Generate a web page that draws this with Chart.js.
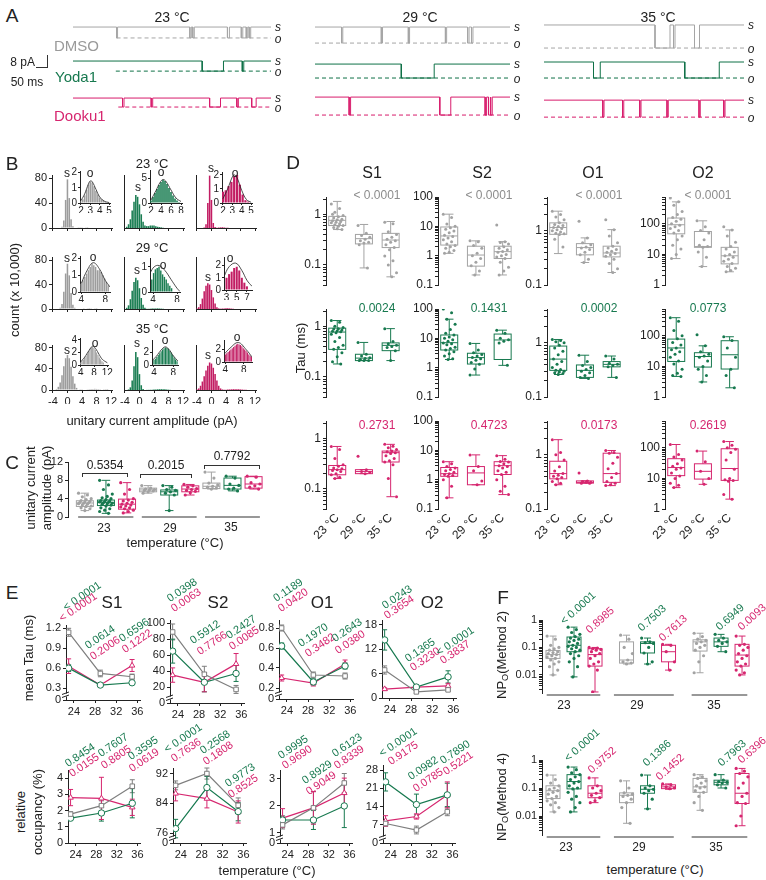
<!DOCTYPE html>
<html>
<head>
<meta charset="utf-8">
<script src="https://cdn.jsdelivr.net/npm/chart.js@4.4.1/dist/chart.umd.min.js"></script>
<style>
  html, body { margin: 0; padding: 0; background: #fff; }
  body { position: relative; width: 766px; height: 880px; overflow: hidden; font-family: Arial, "Liberation Sans", Helvetica, sans-serif; color: #222; }
  .t { position: absolute; white-space: nowrap; line-height: 1; }
  .ln { position: absolute; background: #333; }
  sub { font-size: 70%; vertical-align: -2px; }
</style>
</head>
<body>
<script>
var GRAY = '#a3a3a3';
var GRAY_LINE = '#7e7e7e';
var GREEN = '#17794f';
var PINK = '#d6266f';
var drugColors = [GRAY, GREEN, PINK];
var histColors = ['#9c9c9c', '#1a7d52', '#c21d63'];

// ---------- A: single channel traces (ms, pA)
var traceTemps = ['23 °C', '29 °C', '35 °C'];
var traceDrugs = ['DMSO', 'Yoda1', 'Dooku1'];
var closedLevel = [[-5.1, -29.7, -56.5], [-5.1, -31.9, -55.8], [-3.6, -30.4, -58.0]];
var openLevel = [[-13.0, -37.0, -63.0], [-16.7, -42.0, -68.8], [-20.3, -42.0, -70.3]];
var dashStart = [[176, 173, 183], [0, 0, 0], [0, 0, 0]];
var openings23 = [[[176, 180], [472, 478], [484, 490], [624, 632], [680, 686], [700, 706], [712, 718]], [[522, 608], [684, 690]], [[200, 206], [316, 322], [552, 596], [662, 668], [722, 740]]];
var openings29 = [[[109, 114], [272, 277], [383, 388], [535, 540], [626, 632], [642, 648]], [[354, 489]], [[140, 146], [512, 557], [698, 704], [712, 718], [722, 727]]];
var openings35 = [[[444, 504], [518, 524], [602, 622]], [[198, 225], [563, 701]], [[235, 240], [314, 319], [383, 388], [492, 497], [620, 625], [719, 724]]];

// ---------- B: amplitude histograms (count x 10,000)
var histBins = [-4, -3.5, -3, -2.5, -2, -1.5, -1, -0.5, 0, 0.5, 1, 1.5, 2, 2.5, 3, 3.5, 4, 4.5, 5, 5.5, 6, 6.5, 7, 7.5, 8, 8.5, 9, 9.5, 10, 10.5, 11, 11.5, 12];
var histDmso23 = [0, 0, 0, 0, 0, 2, 12, 45, 78, 48, 14, 3, 0.8, 0.8, 1.2, 1.4, 1.2, 0.8, 0.5, 0.2, 0, 0, 0, 0, 0, 0, 0, 0, 0, 0, 0, 0, 0];
var histYoda23 = [0, 2, 6, 14, 28, 42, 53, 50, 38, 22, 10, 4, 3, 3, 4, 4, 4, 3, 2, 1.5, 1, 0.5, 0, 0, 0, 0, 0, 0, 0, 0, 0, 0, 0];
var histDooku23 = [0, 0, 0, 0, 1, 6, 40, 84, 45, 8, 1.5, 0.5, 0.8, 1, 1.2, 1, 0.6, 0.3, 0, 0, 0, 0, 0, 0, 0, 0, 0, 0, 0, 0, 0, 0, 0];
var histDmso29 = [0, 0, 0, 0, 2, 8, 28, 58, 74, 55, 26, 7, 2, 0, 0, 0, 0, 0.3, 0.8, 1.2, 1.5, 1.3, 0.9, 0.5, 0.2, 0, 0, 0, 0, 0, 0, 0, 0];
var histYoda29 = [0, 2, 6, 16, 30, 44, 51, 47, 34, 18, 7, 2, 0.3, 0.3, 0.5, 0.7, 0.9, 1, 1, 0.8, 0.6, 0.3, 0, 0, 0, 0, 0, 0, 0, 0, 0, 0, 0];
var histDooku29 = [1, 3, 8, 17, 29, 38, 42, 40, 31, 19, 9, 3, 1, 0.5, 0.8, 1, 1.2, 1.2, 1, 0.7, 0.4, 0.2, 0, 0, 0, 0, 0, 0, 0, 0, 0, 0, 0];
var histDmso35 = [0, 0, 2, 6, 14, 28, 45, 60, 66, 60, 44, 26, 12, 4, 1, 0.3, 0.5, 0.8, 1, 1.3, 1.6, 1.9, 2.1, 2.2, 2, 1.7, 1.3, 0.9, 0.6, 0.3, 0.1, 0, 0];
var histYoda35 = [0, 0, 1, 5, 18, 45, 72, 62, 30, 9, 2, 0.2, 0.2, 0.3, 0.4, 0.6, 0.8, 1, 1.3, 1.5, 1.6, 1.5, 1.2, 0.9, 0.6, 0.3, 0.1, 0, 0, 0, 0, 0, 0];
var histDooku35 = [1, 3, 8, 16, 26, 37, 46, 52, 50, 42, 30, 18, 8, 3, 1, 0.5, 0.7, 0.9, 1.1, 1.3, 1.5, 1.6, 1.6, 1.4, 1.1, 0.8, 0.5, 0.3, 0.1, 0, 0, 0, 0];
var histCounts = [[histDmso23, histYoda23, histDooku23], [histDmso29, histYoda29, histDooku29], [histDmso35, histYoda35, histDooku35]];

// open-level insets, row-major (23, 29, 35 °C) x (DMSO, Yoda1, Dooku1)
var insetBins = [
  [2.0, 2.2, 2.4, 2.6, 2.8, 3.0, 3.2, 3.4, 3.6, 3.8, 4.0, 4.2, 4.4, 4.6, 4.8, 5.0],
  [2.0, 2.4, 2.8, 3.2, 3.6, 4.0, 4.4, 4.8, 5.2, 5.6, 6.0, 6.4, 6.8, 7.2, 7.6, 8.0],
  [2.0, 2.3, 2.6, 2.9, 3.2, 3.5, 3.8, 4.1, 4.4, 4.7],
  [4.0, 4.3, 4.6, 4.9, 5.2, 5.5, 5.8, 6.1, 6.4, 6.7, 7.0, 7.3, 7.6, 7.9, 8.2, 8.5],
  [3.8, 4.1, 4.4, 4.7, 5.0, 5.3, 5.6, 5.9, 6.2, 6.5, 6.8, 7.1],
  [3.0, 3.5, 4.0, 4.5, 5.0, 5.5, 6.0, 6.5, 7.0],
  [4.0, 4.4, 4.8, 5.2, 5.6, 6.0, 6.4, 6.8, 7.2, 7.6, 8.0, 8.4, 8.8, 9.2, 9.6, 10.0, 10.4, 10.8],
  [4.0, 4.3, 4.6, 4.9, 5.2, 5.5, 5.8, 6.1, 6.4, 6.7, 7.0, 7.3, 7.6, 7.9, 8.2, 8.5, 8.8],
  [4.0, 4.3, 4.6, 4.9, 5.2, 5.5, 5.8, 6.1, 6.4, 6.7, 7.0, 7.3, 7.6, 7.9, 8.2, 8.5, 8.8, 9.1, 9.4, 9.7]
];
var insetCounts = [
  [0.1, 0.25, 0.5, 0.85, 1.2, 1.4, 1.35, 1.1, 0.8, 0.55, 0.35, 0.25, 0.15, 0.1, 0.05, 0.02],
  [0.5, 1.2, 2.0, 2.8, 3.6, 4.2, 4.6, 4.4, 3.8, 3.0, 2.2, 1.5, 0.9, 0.5, 0.2, 0.1],
  [0.8, 0.9, 1.2, 1.5, 1.9, 2.0, 1.3, 0.6, 0.2, 0.1],
  [0.5, 0.7, 0.9, 1.1, 1.3, 1.5, 1.7, 1.6, 1.5, 1.3, 1.3, 1.2, 1.0, 0.8, 0.6, 0.4],
  [0.5, 0.75, 0.9, 0.95, 1.0, 0.85, 0.7, 0.6, 0.5, 0.35, 0.25, 0.15],
  [1.0, 1.3, 1.5, 1.8, 1.9, 1.6, 1.0, 0.6, 0.3],
  [0.4, 0.6, 0.8, 1.1, 1.4, 1.8, 2.2, 2.6, 2.8, 2.9, 2.7, 2.4, 2.0, 1.6, 1.2, 0.9, 0.6, 0.4],
  [0.8, 1.0, 1.3, 1.6, 1.9, 2.2, 2.5, 2.7, 2.8, 2.75, 2.6, 2.3, 2.0, 1.6, 1.2, 0.9, 0.6],
  [1.2, 1.4, 1.6, 1.8, 2.0, 2.2, 2.4, 2.6, 2.8, 2.9, 2.8, 2.7, 2.5, 2.2, 2.0, 1.8, 1.5, 1.2, 1.0, 0.8]
];
var fitX = [
  [2, 2.4, 2.8, 3.0, 3.2, 3.6, 4, 4.5, 5],
  [2, 3, 3.8, 4.4, 5, 6, 7, 8],
  [2, 2.5, 3, 3.2, 3.5, 4, 4.5, 5],
  [4, 5, 6, 7, 8, 8.8],
  [3.5, 4.2, 5, 6, 7, 8, 8.5],
  [2.5, 3.5, 4.8, 6, 7, 8],
  [4, 5, 6, 7, 7.6, 8.5, 9.5, 10.5, 12],
  [3.5, 4.5, 5.5, 6.3, 7, 8, 9],
  [3.8, 5, 6.8, 8.5, 9.8]
];
var fitY = [
  [0.15, 0.6, 1.25, 1.45, 1.4, 0.9, 0.4, 0.12, 0.03],
  [0.6, 2.5, 4.1, 4.7, 4.3, 2.6, 1.0, 0.3],
  [0.3, 1.0, 1.85, 2.0, 1.8, 0.9, 0.25, 0.05],
  [0.5, 1.3, 1.75, 1.4, 0.7, 0.3],
  [0.75, 1.0, 1.05, 0.85, 0.5, 0.15, 0.02],
  [1.1, 1.9, 2.2, 1.6, 0.8, 0.3],
  [0.5, 1.1, 1.9, 2.7, 3.0, 2.6, 1.7, 0.9, 0.35],
  [0.6, 1.4, 2.4, 2.9, 2.6, 1.5, 0.6],
  [1.3, 2.2, 3.1, 2.0, 0.8]
];
var insetXRange = [[1.9, 5.1], [1.8, 8.2], [1.9, 5.1], [3.8, 8.8], [3.5, 8.5], [2.5, 8], [3.8, 12.2], [3.6, 9], [3.7, 9.8]];
var insetXTicks = [[2, 3, 4, 5], [2, 4, 6, 8], [2, 3, 4, 5], [4, 8], [4, 8], [3, 5, 7], [4, 8, 12], [4, 8], [4, 8]];
var insetYMax = [2.1, 6.6, 2.2, 2.15, 1.35, 2.7, 4.3, 4, 3.5];
var insetYTicks = [[0, 1, 2], [0, 5], [0, 1, 2], [0, 1, 2], [0, 1], [0, 1, 2], [0, 2, 4], [0, 2], [0, 2]];

// ---------- C: unitary current amplitude (pA), [low, q1, median, q3, high]
var ampGroups = ['23', '29', '35'];
var ampStats = [
  [[1.4, 2.3, 3.05, 3.55, 5.2], [0.8, 2.5, 3.2, 3.7, 8.0], [0.9, 1.7, 2.8, 3.9, 7.5]],
  [[5.2, 5.5, 5.9, 6.3, 6.85], [1.4, 4.8, 5.5, 5.9, 6.85], [4.8, 5.5, 6.1, 6.8, 7.1]],
  [[6.1, 6.2, 6.7, 7.4, 9.8], [5.7, 6.1, 6.9, 8.5, 8.9], [6.1, 6.3, 7.2, 8.8, 8.9]]
];
var ampPoints = [
  [[5.2, 4.8, 4.4, 4.0, 3.8, 3.6, 3.4, 3.3, 3.2, 3.1, 3.0, 2.9, 2.8, 2.6, 2.4, 2.3, 2.0, 1.8, 1.4], [8.0, 7.0, 6.0, 5.0, 4.5, 4.2, 4.0, 3.8, 3.6, 3.5, 3.4, 3.3, 3.2, 3.1, 3.0, 2.9, 2.8, 2.6, 2.4, 2.0, 1.8, 1.5, 1.2, 0.8], [7.5, 6.0, 5.0, 4.0, 3.7, 3.5, 3.2, 3.0, 2.8, 2.6, 2.4, 2.2, 2.0, 1.8, 1.5, 1.2, 0.9]],
  [[6.85, 6.3, 6.1, 6.0, 5.9, 5.8, 5.7, 5.5, 5.2], [6.85, 6.5, 6.0, 5.8, 5.5, 5.2, 4.8, 1.4], [7.1, 6.8, 6.5, 6.2, 6.0, 5.8, 5.6, 5.3, 4.8]],
  [[9.8, 8.5, 7.4, 7.0, 6.7, 6.5, 6.3, 6.1], [8.9, 8.5, 7.2, 6.9, 6.3, 6.1, 5.7], [8.9, 8.7, 7.5, 7.2, 6.8, 6.5, 6.1]]
];
var ampPValues = ['0.5354', '0.2015', '0.7792'];

// ---------- D: dwell-time constants (ms) per drug (DMSO, Yoda1, Dooku1) and temperature
var tauStates = ['S1', 'S2', 'O1', 'O2'];
var tauTempLabels = ['23 °C', '29 °C', '35 °C'];
var tauRanges = [[0.04, 2.2], [0.1, 100], [0.1, 4.2], [1, 750]];
var tauTickLabels = [[0.1, 1], [0.1, 1, 10, 100], [0.1, 1], [1, 10, 100]];
var tauPValues = [['< 0.0001', '< 0.0001', '< 0.0001', '< 0.0001'], ['0.0024', '0.1431', '0.0002', '0.0773'], ['0.2731', '0.4723', '0.0173', '0.2619']];
var tauS1Stats = [
  [[0.5, 0.6, 0.76, 0.91, 1.8], [0.087, 0.26, 0.33, 0.4, 0.63], [0.058, 0.22, 0.31, 0.42, 0.72]],
  [[0.18, 0.35, 0.77, 0.92, 1.3], [0.21, 0.21, 0.235, 0.28, 0.48], [0.21, 0.33, 0.42, 0.47, 0.9]],
  [[0.16, 0.19, 0.24, 0.29, 0.69], [0.2, 0.2, 0.22, 0.24, 0.24], [0.07, 0.34, 0.52, 0.56, 0.76]]
];
var tauS1Points = [
  [[1.6, 1.3, 1.1, 0.95, 0.9, 0.85, 0.8, 0.78, 0.75, 0.72, 0.7, 0.68, 0.65, 0.62, 0.6, 0.58, 0.55, 0.5, 0.52, 1.0], [0.6, 0.42, 0.38, 0.35, 0.32, 0.3, 0.28, 0.27, 0.25, 0.087], [0.7, 0.65, 0.45, 0.4, 0.35, 0.32, 0.3, 0.28, 0.25, 0.22, 0.2, 0.15, 0.12, 0.1, 0.07, 0.058]],
  [[1.3, 1.2, 1.0, 0.95, 0.9, 0.88, 0.85, 0.82, 0.8, 0.78, 0.75, 0.7, 0.6, 0.5, 0.42, 0.38, 0.35, 0.3, 0.25, 0.2, 0.18], [0.48, 0.28, 0.26, 0.24, 0.23, 0.22, 0.21, 0.21, 0.21], [0.9, 0.5, 0.45, 0.42, 0.4, 0.38, 0.33, 0.21]],
  [[0.69, 0.6, 0.4, 0.3, 0.28, 0.26, 0.25, 0.24, 0.23, 0.22, 0.2, 0.19, 0.17, 0.16], [0.44, 0.24, 0.22, 0.21, 0.2], [0.76, 0.7, 0.65, 0.6, 0.56, 0.54, 0.52, 0.5, 0.45, 0.4, 0.36, 0.34, 0.3, 0.16, 0.07]]
];
var tauS2Stats = [
  [[1.2, 2.3, 4.7, 9.5, 26], [0.22, 0.44, 1.05, 2.1, 3.2], [0.22, 0.8, 1.37, 2.1, 3.0]],
  [[1.9, 4.0, 7.1, 13, 45], [0.56, 1.33, 2.2, 3.1, 6.7], [1.2, 1.9, 8.8, 14, 19]],
  [[0.24, 1.3, 1.6, 2.6, 4.1], [0.67, 0.67, 1.7, 2.8, 7.0], [0.31, 1.5, 3.0, 4.1, 6.6]]
];
var tauS2Points = [
  [[26, 20, 12, 10, 9, 8, 7, 6, 5, 4.5, 4, 3.5, 3, 2.5, 2.2, 2, 1.8, 1.5, 1.3, 1.2], [3.2, 3, 2.2, 1.8, 1.2, 1, 0.8, 0.6, 0.45, 0.3, 0.22], [11, 3, 2.8, 2.5, 2, 1.8, 1.6, 1.4, 1.3, 1.1, 1, 0.9, 0.8, 0.6, 0.4, 0.3, 0.22]],
  [[100, 75, 45, 30, 20, 15, 13, 11, 10, 9, 8, 7, 6.5, 6, 5, 4.5, 4, 3.5, 3, 2.5, 2, 1.9], [6.7, 4, 3.2, 2.8, 2.5, 2.2, 2, 1.8, 1.5, 1.3, 0.9, 0.56], [19, 15, 10, 9, 8, 7, 1.2]],
  [[4.1, 3.5, 2.8, 2.5, 2.2, 2, 1.8, 1.6, 1.5, 1.4, 1.3, 1, 0.6, 0.24], [7, 2.8, 2, 0.9, 0.67], [6.6, 5, 4.2, 4, 3.5, 3, 2.8, 2.5, 2, 1.8, 1.5, 1, 0.6, 0.4, 0.31]]
];
var tauO1Stats = [
  [[0.38, 0.86, 1.15, 1.4, 2.3], [0.26, 0.36, 0.49, 0.58, 0.74], [0.17, 0.33, 0.39, 0.52, 1.05]],
  [[0.26, 0.31, 0.5, 0.87, 1.15], [0.22, 0.23, 0.31, 0.39, 0.59], [0.23, 0.36, 0.4, 0.45, 0.57]],
  [[0.28, 0.36, 0.45, 0.76, 1.9], [0.3, 0.3, 0.31, 0.33, 0.33], [0.27, 0.31, 0.45, 1.07, 1.2]]
];
var tauO1Points = [
  [[2.3, 2, 1.8, 1.6, 1.4, 1.3, 1.25, 1.2, 1.15, 1.1, 1.05, 1, 0.95, 0.9, 0.88, 0.85, 0.7, 0.5], [1.5, 0.74, 0.6, 0.55, 0.5, 0.48, 0.45, 0.4, 0.36, 0.3, 0.26], [1.6, 1.05, 0.8, 0.6, 0.52, 0.48, 0.45, 0.42, 0.4, 0.38, 0.36, 0.34, 0.3, 0.25, 0.2, 0.17]],
  [[1.15, 1.1, 1.05, 1, 0.9, 0.8, 0.7, 0.6, 0.5, 0.45, 0.4, 0.35, 0.32, 0.31, 0.3, 0.29, 0.28, 0.27, 0.26], [0.59, 0.45, 0.38, 0.35, 0.32, 0.3, 0.28, 0.25, 0.23, 0.22], [0.57, 0.5, 0.42, 0.4, 0.38, 0.36, 0.23]],
  [[1.9, 1.1, 1, 0.8, 0.6, 0.5, 0.45, 0.42, 0.4, 0.38, 0.36, 0.32, 0.3, 0.28], [0.46, 0.33, 0.32, 0.31, 0.31, 0.3, 0.3], [1.2, 1.1, 1.07, 0.9, 0.7, 0.55, 0.45, 0.38, 0.32, 0.3, 0.28, 0.27]]
];
var tauO2Stats = [
  [[7.3, 47, 93, 154, 520], [4, 17, 18, 56, 125], [2.7, 4.9, 9, 17, 63]],
  [[4.7, 14.5, 40, 78, 390], [3.1, 9.5, 21, 28, 47], [2.0, 8.2, 24, 69, 93]],
  [[5, 12.3, 22.6, 44, 128], [6.4, 9.5, 17, 30, 78], [2.1, 8.6, 21, 93, 160]]
];
var tauO2Points = [
  [[700, 520, 400, 250, 200, 160, 140, 120, 100, 90, 80, 70, 60, 50, 40, 30, 20, 15, 10, 7.3], [125, 80, 60, 50, 30, 20, 18, 17, 12, 8, 4], [80, 63, 40, 25, 18, 15, 12, 10, 9, 8, 7, 6, 5, 4, 3.5, 3, 2.7]],
  [[390, 300, 150, 100, 80, 60, 50, 40, 35, 30, 25, 20, 15, 12, 8, 6, 5, 4.7], [108, 47, 30, 25, 22, 20, 15, 10, 8, 5, 3.1], [93, 70, 40, 20, 8, 5, 2]],
  [[128, 60, 50, 40, 30, 25, 22, 20, 15, 12, 10, 7, 6, 5], [78, 35, 17, 10, 6.4], [160, 120, 100, 90, 70, 40, 20, 10, 9, 8.6, 8, 3, 2.1]]
];
var tauStats = [tauS1Stats, tauS2Stats, tauO1Stats, tauO2Stats];
var tauPoints = [tauS1Points, tauS2Points, tauO1Points, tauO2Points];

// ---------- E: mean +/- SEM per drug (DMSO, Yoda1, Dooku1) at 23, 29, 35 °C
var eTemps = [23, 29, 35];
var meanTauS1 = [[1.14, 0.52, 0.47], [0.6, 0.345, 0.38], [0.63, 0.345, 0.64]];
var semTauS1 = [[0.06, 0.05, 0.04], [0.05, 0.02, 0.02], [0.11, 0.02, 0.09]];
var meanTauS2 = [[89, 36, 17], [65, 26, 37], [35, 26, 49]];
var semTauS2 = [[10, 10, 5], [15, 12, 10], [9, 12, 13]];
var meanTauO1 = [[0.8, 0.33, 0.32], [0.62, 0.26, 0.42], [0.3, 0.25, 0.44]];
var semTauO1 = [[0.03, 0.03, 0.03], [0.03, 0.03, 0.03], [0.03, 0.03, 0.04]];
var meanTauO2 = [[6.9, 1.5, 2.0], [14.3, 2.7, 5.2], [2.2, 2.7, 3.0]];
var semTauO2 = [[1, 0.3, 0.3], [2.5, 0.5, 1.5], [0.3, 0.5, 0.5]];
var occS1 = [[1.78, 2.3, 3.5], [1.53, 1.85, 2.45], [2.8, 2.75, 2.2]];
var occSemS1 = [[0.15, 0.3, 0.4], [0.1, 0.5, 0.9], [0.5, 1.3, 0.5]];
var occS2 = [[88.9, 92.1, 83.5], [77.2, 88.3, 81.8], [86.7, 85.3, 81.7]];
var occSemS2 = [[1.2, 1.5, 2], [2.5, 3, 2.5], [2, 2.5, 3]];
var occO1 = [[1.3, 1.93, 2.85], [1.48, 1.48, 2.0], [1.55, 1.93, 2.48]];
var occSemO1 = [[0.15, 0.6, 0.35], [0.15, 0.35, 0.8], [0.35, 0.6, 0.55]];
var occO2 = [[7.5, 5, 12], [23.5, 14.8, 18.5], [8.5, 10.2, 18.5]];
var occSemO2 = [[1, 1.5, 1.5], [3.5, 4, 4.5], [2, 1, 5]];

// ---------- F: NPo per temperature group, drugs DMSO, Yoda1, Dooku1
var npGroups = ['23', '29', '35'];
var np2Stats = [
  [[0.01, 0.04, 0.055, 0.078, 0.26], [0.0085, 0.07, 0.12, 0.24, 0.55], [0.0024, 0.021, 0.055, 0.09, 0.1]],
  [[0.025, 0.027, 0.035, 0.16, 0.28], [0.025, 0.063, 0.14, 0.16, 0.22], [0.015, 0.03, 0.07, 0.12, 0.13]],
  [[0.012, 0.074, 0.16, 0.19, 0.33], [0.07, 0.11, 0.16, 0.22, 0.3], [0.01, 0.021, 0.053, 0.13, 0.26]]
];
var np2Points = [
  [[0.26, 0.2, 0.12, 0.1, 0.09, 0.08, 0.07, 0.065, 0.06, 0.055, 0.05, 0.045, 0.04, 0.035, 0.03, 0.025, 0.02, 0.015, 0.01], [0.55, 0.45, 0.35, 0.3, 0.25, 0.22, 0.2, 0.18, 0.16, 0.14, 0.12, 0.11, 0.1, 0.09, 0.08, 0.07, 0.06, 0.05, 0.04, 0.03, 0.02, 0.0085], [0.1, 0.095, 0.09, 0.085, 0.08, 0.07, 0.06, 0.05, 0.04, 0.03, 0.025, 0.021, 0.015, 0.0024]],
  [[0.28, 0.2, 0.1, 0.06, 0.035, 0.03, 0.027, 0.025], [0.22, 0.16, 0.15, 0.14, 0.1, 0.063, 0.03, 0.025], [0.13, 0.12, 0.07, 0.03, 0.015]],
  [[0.33, 0.25, 0.2, 0.18, 0.16, 0.14, 0.12, 0.1, 0.08, 0.05, 0.03, 0.012], [0.3, 0.22, 0.18, 0.16, 0.14, 0.11, 0.07], [0.26, 0.13, 0.12, 0.1, 0.08, 0.06, 0.05, 0.04, 0.03, 0.025, 0.021, 0.015, 0.012, 0.01]]
];
var np4Stats = [
  [[0.014, 0.042, 0.08, 0.12, 0.29], [0.014, 0.093, 0.17, 0.3, 0.56], [0.03, 0.045, 0.065, 0.12, 0.23]],
  [[0.0055, 0.03, 0.055, 0.067, 0.18], [0.018, 0.065, 0.09, 0.12, 0.29], [0.09, 0.095, 0.11, 0.13, 0.14]],
  [[0.016, 0.07, 0.11, 0.22, 0.3], [0.1, 0.13, 0.16, 0.19, 0.3], [0.0045, 0.028, 0.065, 0.33, 0.5]]
];
var np4Points = [
  [[0.29, 0.2, 0.15, 0.12, 0.1, 0.09, 0.08, 0.07, 0.06, 0.05, 0.042, 0.035, 0.03, 0.025, 0.02, 0.014], [0.56, 0.45, 0.35, 0.3, 0.25, 0.2, 0.17, 0.15, 0.12, 0.1, 0.093, 0.07, 0.05, 0.04, 0.03, 0.02, 0.014], [0.23, 0.12, 0.1, 0.08, 0.065, 0.055, 0.045, 0.035, 0.03]],
  [[0.18, 0.1, 0.067, 0.06, 0.055, 0.05, 0.04, 0.03, 0.02, 0.0055], [0.29, 0.12, 0.1, 0.09, 0.08, 0.065, 0.04, 0.018], [0.14, 0.13, 0.11, 0.1, 0.095]],
  [[0.3, 0.25, 0.22, 0.18, 0.15, 0.12, 0.11, 0.1, 0.08, 0.07, 0.05, 0.03, 0.016], [0.3, 0.19, 0.17, 0.16, 0.15, 0.13, 0.1], [0.5, 0.4, 0.33, 0.25, 0.15, 0.1, 0.065, 0.05, 0.03, 0.028, 0.01, 0.0045]]
];
var np2PValues = [['< 0.0001', '0.8985'], ['0.7503', '0.7613'], ['0.6949', '0.0093']];
var np4PValues = [['< 0.0001', '0.9752'], ['0.1386', '0.1452'], ['0.7963', '0.6396']];
var npTickLabels = [0.01, 0.1, 1];

// ---------- chart defaults
Chart.defaults.font.family = 'Arial, "Liberation Sans", Helvetica, sans-serif';
Chart.defaults.font.size = 11;
Chart.defaults.color = '#222';
Chart.defaults.animation = false;
Chart.defaults.events = [];
Chart.defaults.plugins.legend.display = false;
Chart.defaults.plugins.tooltip.enabled = false;

var PAD = 10;

function plotChart(rect, yw, xh, config) {
  var left = rect[0] - yw - PAD;
  var top = rect[1] - PAD;
  var w = rect[2] - rect[0] + yw + 2 * PAD;
  var h = rect[3] - rect[1] + xh + 2 * PAD;
  var canvas = document.createElement('canvas');
  canvas.width = w;
  canvas.height = h;
  canvas.style.cssText = 'position:absolute;left:' + left + 'px;top:' + top + 'px;width:' + w + 'px;height:' + h + 'px;';
  document.body.appendChild(canvas);
  var sc = config.options.scales;
  sc.x.afterFit = function (s) { s.height = xh; };
  sc.y.afterFit = function (s) { s.width = yw; };
  config.options.layout = { padding: PAD };
  config.options.responsive = false;
  config.options.maintainAspectRatio = false;
  config.options.devicePixelRatio = 1;
  return new Chart(canvas, config);
}

function axisCfg(type, min, max, tickValues, opt) {
  opt = opt || {};
  var len = opt.tickLen === undefined ? 3 : opt.tickLen;
  return {
    type: type,
    min: min,
    max: max,
    offset: false,
    display: opt.display !== false,
    afterBuildTicks: function (scale) {
      scale.ticks = tickValues.map(function (v) { return { value: v }; });
    },
    ticks: {
      display: opt.labels !== false,
      autoSkip: false,
      padding: opt.pad === undefined ? 2 : opt.pad,
      maxRotation: opt.rot || 0,
      minRotation: opt.rot || 0,
      font: { size: opt.size || 11 },
      color: '#222',
      callback: opt.fmt || function (v) { return String(v); }
    },
    grid: { display: len > 0, drawOnChartArea: false, offset: false, tickLength: len, color: '#222' },
    border: { display: opt.border !== false, color: '#222', width: 1 }
  };
}

function logTicks(min, max) {
  var out = [];
  for (var e = Math.floor(Math.log10(min)); e <= Math.ceil(Math.log10(max)); e++) {
    for (var m = 1; m < 10; m++) {
      var v = parseFloat((m * Math.pow(10, e)).toPrecision(4));
      if (v >= min && v <= max) out.push(v);
    }
  }
  return out;
}

function logLabel(labels) {
  return function (v) {
    for (var i = 0; i < labels.length; i++) {
      if (Math.abs(v - labels[i]) < labels[i] * 1e-6) return String(labels[i]);
    }
    return '';
  };
}

function jitter(i) {
  return ((i * 7) % 11) / 5 - 1;
}

function boxLayer(boxes, halfW) {
  return {
    id: 'boxLayer',
    beforeDatasetsDraw: function (chart) {
      var ctx = chart.ctx, xs = chart.scales.x, ys = chart.scales.y;
      boxes.forEach(function (b) {
        var cx = xs.getPixelForValue(b.x);
        var p = b.stats.map(function (v) { return ys.getPixelForValue(v); });
        var cap = halfW * 0.5;
        ctx.save();
        ctx.strokeStyle = b.color;
        ctx.lineWidth = 1;
        ctx.beginPath();
        ctx.moveTo(cx, p[0]); ctx.lineTo(cx, p[1]);
        ctx.moveTo(cx, p[3]); ctx.lineTo(cx, p[4]);
        ctx.moveTo(cx - cap, p[0]); ctx.lineTo(cx + cap, p[0]);
        ctx.moveTo(cx - cap, p[4]); ctx.lineTo(cx + cap, p[4]);
        ctx.moveTo(cx - halfW, p[2]); ctx.lineTo(cx + halfW, p[2]);
        ctx.stroke();
        ctx.strokeRect(cx - halfW, p[3], 2 * halfW, p[1] - p[3]);
        ctx.restore();
      });
    }
  };
}

function groupLines(spans, dy, width) {
  return {
    id: 'groupLines',
    afterDraw: function (chart) {
      var ctx = chart.ctx, xs = chart.scales.x, y = chart.chartArea.bottom + dy;
      ctx.save();
      ctx.strokeStyle = '#333';
      ctx.lineWidth = width || 1.2;
      ctx.beginPath();
      spans.forEach(function (s) {
        ctx.moveTo(xs.getPixelForValue(s[0]), y);
        ctx.lineTo(xs.getPixelForValue(s[1]), y);
      });
      ctx.stroke();
      ctx.restore();
    }
  };
}

var errLayer = {
  id: 'errLayer',
  beforeDatasetsDraw: function (chart) {
    var ctx = chart.ctx, ys = chart.scales.y;
    chart.data.datasets.forEach(function (ds, i) {
      var meta = chart.getDatasetMeta(i);
      ctx.save();
      ctx.strokeStyle = ds.borderColor;
      ctx.lineWidth = 1;
      ctx.beginPath();
      ds.data.forEach(function (d, j) {
        var x = meta.data[j].x, e = ds.err[j];
        var y0 = ys.getPixelForValue(d.y - e), y1 = ys.getPixelForValue(d.y + e);
        ctx.moveTo(x, y0); ctx.lineTo(x, y1);
        ctx.moveTo(x - 2.5, y0); ctx.lineTo(x + 2.5, y0);
        ctx.moveTo(x - 2.5, y1); ctx.lineTo(x + 2.5, y1);
      });
      ctx.stroke();
      ctx.restore();
    });
  }
};

var breakLayer = {
  id: 'breakLayer',
  afterDraw: function (chart) {
    var ctx = chart.ctx, x = chart.chartArea.left, y = chart.chartArea.bottom - 5;
    ctx.save();
    ctx.fillStyle = '#fff';
    ctx.fillRect(x - 2, y - 1.5, 4, 3);
    ctx.strokeStyle = '#222';
    ctx.lineWidth = 1;
    ctx.beginPath();
    ctx.moveTo(x - 4, y - 0.5); ctx.lineTo(x + 3, y - 3);
    ctx.moveTo(x - 4, y + 2.5); ctx.lineTo(x + 3, y);
    ctx.stroke();
    ctx.restore();
  }
};

function label(html, x, y, o) {
  o = o || {};
  var el = document.createElement('div');
  el.className = 't';
  el.innerHTML = html;
  el.style.left = x + 'px';
  el.style.top = y + 'px';
  el.style.fontSize = (o.size || 12) + 'px';
  if (o.color) el.style.color = o.color;
  if (o.italic) el.style.fontStyle = 'italic';
  var tr = o.align === 'left' ? 'translate(0,-50%)' : (o.align === 'right' ? 'translate(-100%,-50%)' : 'translate(-50%,-50%)');
  if (o.rot) tr += ' rotate(' + o.rot + 'deg)';
  el.style.transform = tr;
  document.body.appendChild(el);
}

function rule(x, y, w, h) {
  var d = document.createElement('div');
  d.className = 'ln';
  d.style.left = x + 'px';
  d.style.top = y + 'px';
  d.style.width = w + 'px';
  d.style.height = h + 'px';
  document.body.appendChild(d);
}

// ================= A
var traceColors = ['#a5a5a5', '#0f7147', '#d81c6c'];
var traceBlocks = [[73, 271], [315, 510], [544, 744]];
var traceOpenings = [openings23, openings29, openings35];
var TRACE_TOP = 20, TRACE_BOTTOM = 125, TRACE_MIN = -76;

function stepTrace(ev, s, o) {
  var pts = [{ x: 0, y: s }];
  ev.forEach(function (e) {
    pts.push({ x: e[0], y: s }, { x: e[0], y: o }, { x: e[1], y: o }, { x: e[1], y: s });
  });
  pts.push({ x: 800, y: s });
  return pts;
}

traceBlocks.forEach(function (blk, ti) {
  var ds = [];
  for (var d = 0; d < 3; d++) {
    ds.push({ data: stepTrace(traceOpenings[ti][d], closedLevel[ti][d], openLevel[ti][d]), borderColor: traceColors[d], borderWidth: 1, pointRadius: 0, tension: 0 });
    ds.push({ data: [{ x: dashStart[ti][d], y: openLevel[ti][d] }, { x: 800, y: openLevel[ti][d] }], borderColor: traceColors[d], borderWidth: 1, borderDash: [4, 3], pointRadius: 0 });
  }
  plotChart([blk[0], TRACE_TOP, blk[1], TRACE_BOTTOM], 0, 0, {
    type: 'line',
    data: { datasets: ds },
    options: { scales: {
      x: axisCfg('linear', 0, 800, [], { display: false }),
      y: axisCfg('linear', TRACE_MIN, 0, [], { display: false })
    } }
  });
  for (var k = 0; k < 3; k++) {
    var pxPerPa = (TRACE_BOTTOM - TRACE_TOP) / -TRACE_MIN;
    label('s', blk[1] + 7, TRACE_TOP - closedLevel[ti][k] * pxPerPa, { italic: true, size: 12 });
    label('o', blk[1] + 7, TRACE_TOP - openLevel[ti][k] * pxPerPa + 1, { italic: true, size: 12 });
  }
});
label('A', 12, 15, { size: 19 });
label(traceTemps[0], 172, 17, { size: 14 });
label(traceTemps[1], 420, 17, { size: 14 });
label(traceTemps[2], 658, 17, { size: 14 });
label(traceDrugs[0], 54, 45, { size: 15, color: '#9a9a9a', align: 'left' });
label(traceDrugs[1], 55, 76, { size: 15, color: GREEN, align: 'left' });
label(traceDrugs[2], 54, 115, { size: 15, color: PINK, align: 'left' });
label('8 pA', 35, 62, { size: 12, align: 'right' });
label('50 ms', 27, 82, { size: 12 });
rule(47, 55, 1, 13);
rule(36, 67, 12, 1);

// ================= B
var histCols = [52, 124, 196];
var histRows = [[175, 228], [257, 309], [345, 390]];
var insetRects = [
  [80, 171, 110, 203], [150, 170, 182, 203], [222, 172, 252, 203],
  [80, 256, 110, 292], [150, 258, 180, 292], [224, 257, 252, 290],
  [80, 338, 108, 365], [152, 340, 178, 365], [224, 340, 252, 362]
];
histRows.forEach(function (row, r) {
  histCols.forEach(function (x0, c) {
    var showY = c === 0, showX = r === 2;
    plotChart([x0, row[0], x0 + 60, row[1]], showY ? 18 : 0, showX ? 14 : 3, {
      type: 'bar',
      data: { datasets: [{
        data: histBins.map(function (b, i) { return { x: b, y: histCounts[r][c][i] }; }),
        backgroundColor: histColors[c], borderWidth: 0, barPercentage: 0.85, categoryPercentage: 1
      }] },
      options: { scales: {
        x: axisCfg('linear', -4.25, 12.25, [-4, 0, 4, 8, 12], { labels: showX, size: 11 }),
        y: axisCfg('linear', 0, 85, [0, 40, 80], { labels: showY, tickLen: showY ? 3 : 0, size: 11 })
      } }
    });
  });
});
insetRects.forEach(function (rect, k) {
  var c = k % 3;
  plotChart(rect, 8, 10, {
    type: 'bar',
    data: { datasets: [
      { type: 'line', data: fitX[k].map(function (x, i) { return { x: x, y: fitY[k][i] }; }), borderColor: '#222', borderWidth: 0.8, pointRadius: 0, tension: 0.4 },
      { data: insetBins[k].map(function (b, i) { return { x: b, y: insetCounts[k][i] }; }), backgroundColor: histColors[c], borderWidth: 0, barPercentage: 0.8, categoryPercentage: 1 }
    ] },
    options: { scales: {
      x: axisCfg('linear', insetXRange[k][0], insetXRange[k][1], insetXTicks[k], { size: 10, tickLen: 2, pad: 0 }),
      y: axisCfg('linear', 0, insetYMax[k], insetYTicks[k], { size: 10, tickLen: 2, pad: 1 })
    } }
  });
});
label('B', 12, 163, { size: 19 });
label('23 °C', 152, 163, { size: 13 });
label('29 °C', 152, 247, { size: 13 });
label('35 °C', 152, 328, { size: 13 });
[[67, 173], [138, 187], [211, 168], [67, 258], [137, 270], [208, 277], [67, 350], [137, 343], [208, 355]].forEach(function (p) { label('s', p[0], p[1], { size: 12 }); });
[[90, 173], [161, 172], [235, 173], [93, 257], [163, 265], [230, 258], [95, 343], [165, 340], [237, 337]].forEach(function (p) { label('o', p[0], p[1], { size: 12 }); });
label('count (x 10,000)', 14, 290, { size: 13, rot: -90 });
label('unitary current amplitude (pA)', 152, 420, { size: 13 });

// ================= C
var cBoxes = [];
ampStats.forEach(function (grp, g) {
  grp.forEach(function (st, d) {
    cBoxes.push({ x: g * 3 + d + 1, stats: st, pts: ampPoints[g][d], color: drugColors[d] });
  });
});
(function () {
  var ds = cBoxes.map(function (b) {
    return { data: b.pts.map(function (v, i) { return { x: b.x + jitter(i) * 0.3, y: v }; }), pointRadius: 1.6, pointBackgroundColor: b.color, pointBorderWidth: 0 };
  });
  plotChart([68, 462, 262, 517], 16, 0, {
    type: 'scatter',
    data: { datasets: ds },
    options: { scales: {
      x: axisCfg('linear', 0.2, 9.4, [], { display: false }),
      y: axisCfg('linear', 0, 12, [0, 4, 8, 12], { size: 11 })
    } },
    plugins: [boxLayer(cBoxes, 8.5), groupLines([[0.68, 3.3], [3.7, 6.3], [6.7, 9.3]], 0, 1.2)]
  });
})();
label('C', 12, 462, { size: 19 });
label('unitary current', 30, 488, { size: 13, rot: -90 });
label('amplitude (pA)', 46, 488, { size: 13, rot: -90 });
[[82, 128, 473, 465], [140, 192, 474, 465], [204, 260, 465, 456]].forEach(function (b, i) {
  rule(b[0], b[2], b[1] - b[0], 1);
  rule(b[0], b[2], 1, 4);
  rule(b[1] - 1, b[2], 1, 4);
  label(ampPValues[i], (b[0] + b[1]) / 2, b[3], { size: 12 });
});
label(ampGroups[0], 104, 528, { size: 12 });
label(ampGroups[1], 170, 528, { size: 12 });
label(ampGroups[2], 231, 527, { size: 12 });
label('temperature (°C)', 175, 542, { size: 13 });

// ================= D
var tauAxisX = [326, 438, 547, 665];
var tauRowTop = [197, 309, 421];
var pColors = ['#8c8c8c', GREEN, PINK];
tauRowTop.forEach(function (top, r) {
  tauAxisX.forEach(function (ax, c) {
    var boxes = tauStats[c][r].map(function (st, k) {
      return { x: k + 1, stats: st, pts: tauPoints[c][r][k], color: drugColors[r] };
    });
    var ds = boxes.map(function (b) {
      return { data: b.pts.map(function (v, i) { return { x: b.x + jitter(i) * 0.22, y: v }; }), pointRadius: 1.5, pointBackgroundColor: b.color, pointBorderWidth: 0 };
    });
    var last = r === 2;
    plotChart([ax, top, ax + 78, top + 88], 24, last ? 40 : 0, {
      type: 'scatter',
      data: { datasets: ds },
      options: { scales: {
        x: axisCfg('linear', 0.58, 3.5, [1, 2, 3], {
          display: last, border: false, tickLen: 0, rot: 45, size: 12, pad: 2,
          fmt: function (v) { return tauTempLabels[Math.round(v) - 1] || ''; }
        }),
        y: axisCfg('logarithmic', tauRanges[c][0], tauRanges[c][1], logTicks(tauRanges[c][0], tauRanges[c][1]), {
          size: 12, tickLen: 3, fmt: logLabel(tauTickLabels[c])
        })
      } },
      plugins: [boxLayer(boxes, 8.5)]
    });
  });
});
label('D', 293, 162, { size: 19 });
[372, 482, 593, 703].forEach(function (x, c) { label(tauStates[c], x, 173, { size: 16 }); });
[195, 308, 425].forEach(function (y, r) {
  [377, 489, 599, 708].forEach(function (x, c) { label(tauPValues[r][c], x, y, { size: 12, color: pColors[r] }); });
});
label('Tau (ms)', 300, 348, { size: 13, rot: -90 });

// ================= E
var lineStyles = [{ c: GRAY_LINE, p: 'rect' }, { c: GREEN, p: 'circle' }, { c: PINK, p: 'triangle' }];
function tempChart(rect, yMin, yMax, yTicks, zeroAtMin, hasBreak, means, sems) {
  var ds = means.map(function (m, k) {
    return {
      data: m.map(function (y, j) { return { x: eTemps[j], y: y }; }),
      err: sems[k],
      borderColor: lineStyles[k].c, borderWidth: 1.2, tension: 0,
      pointStyle: lineStyles[k].p, pointRadius: 3.2, pointBorderWidth: 1,
      pointBorderColor: lineStyles[k].c, pointBackgroundColor: '#fff'
    };
  });
  var ticks = zeroAtMin ? [yMin].concat(yTicks) : yTicks;
  var plugins = [errLayer];
  if (hasBreak) plugins.push(breakLayer);
  plotChart(rect, 22, 16, {
    type: 'line',
    data: { datasets: ds },
    options: { scales: {
      x: axisCfg('linear', 22.5, 36.5, [24, 28, 32, 36], { size: 11 }),
      y: axisCfg('linear', yMin, yMax, ticks, { size: 11, fmt: function (v) { return (zeroAtMin && v === yMin) ? '0' : String(v); } })
    } },
    plugins: plugins
  });
}
tempChart([66, 625, 140, 700], 0.12, 1.25, [0.3, 0.6, 0.9, 1.2], true, true, meanTauS1, semTauS1);
tempChart([170, 620, 244, 703], 0, 104, [0, 20, 40, 60, 80, 100], false, true, meanTauS2, semTauS2);
tempChart([279, 620, 353, 699], 0.09, 0.88, [0.2, 0.4, 0.6, 0.8], true, true, meanTauO1, semTauO1);
tempChart([382, 620, 456, 698], 0, 19.2, [0, 6, 12, 18], false, false, meanTauO2, semTauO2);
tempChart([68, 770, 140, 843], 0, 4.5, [0, 1, 2, 3, 4], false, false, occS1, occSemS1);
tempChart([173, 768, 246, 843], 73.3, 93.6, [76, 84, 92], true, true, occS2, occSemS2);
tempChart([280, 770, 352, 843], 0.63, 3.33, [1, 2, 3], true, true, occO1, occSemO1);
tempChart([383, 765, 455, 843], 0, 30, [0, 7, 14, 21, 28], false, true, occO2, occSemO2);

label('E', 12, 592, { size: 19 });
label('S1', 112, 602, { size: 17 });
label('S2', 218, 602, { size: 17 });
label('O1', 322, 602, { size: 17 });
label('O2', 432, 602, { size: 17 });
label('mean Tau (ms)', 28, 658, { size: 13, rot: -90 });
label('relative', 20, 812, { size: 13, rot: -90 });
label('occupancy (%)', 37, 812, { size: 13, rot: -90 });
label('temperature (°C)', 267, 870, { size: 13 });
var ePLabels = [
  ['< 0.0001', 82, 596, GREEN], ['< 0.0001', 78, 607, PINK], ['0.0614', 100, 637, GREEN], ['0.2006', 105, 648, PINK], ['0.6596', 134, 630, GREEN], ['0.1222', 137, 641, PINK],
  ['0.0398', 182, 590, GREEN], ['0.0063', 186, 600, PINK], ['0.5912', 205, 632, GREEN], ['0.7766', 212, 643, PINK], ['0.2427', 241, 627, GREEN], ['0.0085', 244, 638, PINK],
  ['0.1189', 288, 590, GREEN], ['0.0420', 293, 600, PINK], ['0.1970', 313, 635, GREEN], ['0.3482', 320, 645, PINK], ['0.2643', 347, 630, GREEN], ['0.0380', 350, 642, PINK],
  ['0.0243', 397, 597, GREEN], ['0.3654', 399, 607, PINK], ['0.1365', 420, 650, GREEN], ['0.3230', 425, 659, PINK], ['< 0.0001', 455, 641, GREEN], ['0.3837', 455, 652, PINK],
  ['0.8454', 80, 755, GREEN], ['0.0155', 84, 765, PINK], ['0.7607', 113, 745, GREEN], ['0.8805', 116, 757, PINK], ['0.3595', 143, 748, GREEN], ['0.0619', 144, 760, PINK],
  ['< 0.0001', 183, 738, GREEN], ['0.7636', 186, 750, PINK], ['0.2568', 215, 742, GREEN], ['0.1808', 218, 753, PINK], ['0.9773', 240, 775, GREEN], ['0.8525', 243, 786, PINK],
  ['0.9995', 293, 747, GREEN], ['0.9690', 297, 757, PINK], ['0.8929', 317, 772, GREEN], ['0.9049', 321, 783, PINK], ['0.6123', 347, 745, GREEN], ['0.8339', 349, 757, PINK],
  ['< 0.0001', 398, 742, GREEN], ['0.9175', 403, 753, PINK], ['0.0982', 423, 768, GREEN], ['0.0785', 428, 780, PINK], ['0.7890', 455, 752, GREEN], ['0.5221', 458, 763, PINK]
];
ePLabels.forEach(function (p) { label(p[0], p[1], p[2], { size: 11, color: p[3], rot: -34 }); });

// ================= F
function npChart(rect, stats, pts) {
  var boxes = [];
  stats.forEach(function (grp, g) {
    grp.forEach(function (st, d) {
      boxes.push({ x: g * 3.5 + d + 1, stats: st, pts: pts[g][d], color: drugColors[d] });
    });
  });
  var ds = boxes.map(function (b) {
    return { data: b.pts.map(function (v, i) { return { x: b.x + jitter(i) * 0.28, y: v }; }), pointRadius: 1.6, pointBackgroundColor: b.color, pointBorderWidth: 0 };
  });
  var range = [rect[1] < 700 ? 0.0022 : 0.0021, 1];
  plotChart(rect, 26, 0, {
    type: 'scatter',
    data: { datasets: ds },
    options: { scales: {
      x: axisCfg('linear', 0.476, 10.95, [], { display: false }),
      y: axisCfg('logarithmic', range[0], range[1], logTicks(range[0], range[1]), { size: 11, fmt: logLabel(npTickLabels) })
    } },
    plugins: [boxLayer(boxes, 7), groupLines([[0.7, 3.25], [3.9, 6.75], [7.6, 10.25]], 2, 1.2)]
  });
}
npChart([542, 620, 762, 693], np2Stats, np2Points);
npChart([542, 760, 762, 835], np4Stats, np4Points);
label('F', 503, 597, { size: 19 });
label('NP<sub>O</sub>(Method 2)', 503, 655, { size: 13, rot: -90 });
label('NP<sub>O</sub>(Method 4)', 503, 797, { size: 13, rot: -90 });
[574, 647, 724].forEach(function (x, g) {
  label(npGroups[g], x - 10, 705, { size: 12 });
  label(npGroups[g], x - 8, 847, { size: 12 });
});
var np2Pos = [[[578, 608], [600, 620]], [[652, 618], [673, 628]], [[730, 617], [752, 617]]];
var np4Pos = [[[582, 745], [602, 760]], [[657, 753], [670, 767]], [[732, 753], [752, 750]]];
np2Pos.forEach(function (g, i) {
  label(np2PValues[i][0], g[0][0], g[0][1], { size: 11, color: GREEN, rot: -42 });
  label(np2PValues[i][1], g[1][0], g[1][1], { size: 11, color: PINK, rot: -42 });
});
np4Pos.forEach(function (g, i) {
  label(np4PValues[i][0], g[0][0], g[0][1], { size: 11, color: GREEN, rot: -42 });
  label(np4PValues[i][1], g[1][0], g[1][1], { size: 11, color: PINK, rot: -42 });
});
label('temperature (°C)', 655, 869, { size: 13 });
</script>
</body>
</html>
